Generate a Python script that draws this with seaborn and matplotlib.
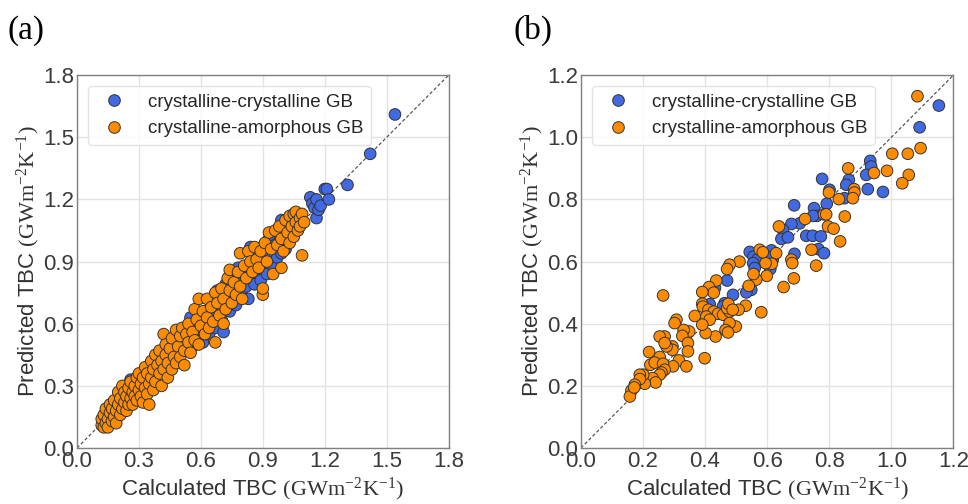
import matplotlib
matplotlib.use("Agg")
import matplotlib.pyplot as plt
import seaborn as sns
import pandas as pd
import numpy as np

# Panel (a): crystalline-crystalline GB (blue)
a_cc = [
    (0.14, 0.12), (0.17, 0.17), (0.19, 0.14), (0.21, 0.26), (0.23, 0.20), (0.26, 0.33),
    (0.27, 0.29), (0.29, 0.26), (0.31, 0.35), (0.33, 0.32), (0.35, 0.40), (0.37, 0.35),
    (0.39, 0.43), (0.41, 0.39), (0.42, 0.47), (0.44, 0.44), (0.45, 0.40), (0.47, 0.50),
    (0.48, 0.46), (0.50, 0.51), (0.51, 0.47), (0.53, 0.56), (0.54, 0.52), (0.55, 0.63),
    (0.56, 0.49), (0.57, 0.59), (0.58, 0.54), (0.59, 0.63), (0.60, 0.57), (0.61, 0.51),
    (0.62, 0.66), (0.63, 0.60), (0.64, 0.55), (0.65, 0.71), (0.66, 0.64), (0.67, 0.58),
    (0.68, 0.76), (0.69, 0.68), (0.70, 0.62), (0.71, 0.56), (0.72, 0.79), (0.73, 0.71),
    (0.74, 0.66), (0.75, 0.82), (0.76, 0.75), (0.77, 0.69), (0.78, 0.87), (0.79, 0.80),
    (0.80, 0.74), (0.81, 0.84), (0.82, 0.78), (0.83, 0.72), (0.84, 0.97), (0.84, 0.89),
    (0.85, 0.82), (0.86, 0.79), (0.87, 0.93), (0.88, 0.86), (0.89, 0.81), (0.90, 0.97),
    (0.91, 0.89), (0.92, 0.84), (0.93, 1.01), (0.94, 0.93), (0.95, 0.88), (0.96, 0.98),
    (0.97, 0.92), (0.98, 1.03), (0.99, 1.10), (0.99, 0.94), (1.00, 1.05), (1.01, 0.96),
    (1.02, 0.99), (1.04, 1.06), (1.13, 1.21), (1.14, 1.18), (1.15, 1.16), (1.16, 1.20),
    (1.16, 1.11), (1.17, 1.15), (1.18, 1.17), (1.20, 1.25), (1.21, 1.25), (1.22, 1.20),
    (1.31, 1.27), (1.42, 1.42), (1.54, 1.61),
]
# Panel (a): crystalline-amorphous GB (orange)
a_ca = [
    (0.12, 0.11), (0.12, 0.14), (0.13, 0.10), (0.13, 0.16), (0.14, 0.12), (0.14, 0.19),
    (0.15, 0.14), (0.15, 0.10), (0.16, 0.17), (0.16, 0.21), (0.17, 0.13), (0.17, 0.19),
    (0.18, 0.15), (0.18, 0.23), (0.19, 0.18), (0.19, 0.12), (0.20, 0.21), (0.20, 0.27),
    (0.21, 0.16), (0.21, 0.24), (0.22, 0.19), (0.22, 0.30), (0.23, 0.22), (0.23, 0.27),
    (0.24, 0.18), (0.24, 0.25), (0.25, 0.29), (0.25, 0.21), (0.26, 0.24), (0.26, 0.32),
    (0.27, 0.27), (0.27, 0.21), (0.28, 0.30), (0.28, 0.25), (0.29, 0.34), (0.29, 0.23),
    (0.30, 0.28), (0.30, 0.36), (0.31, 0.25), (0.31, 0.31), (0.32, 0.34), (0.32, 0.22),
    (0.33, 0.39), (0.33, 0.29), (0.34, 0.26), (0.34, 0.36), (0.35, 0.21), (0.35, 0.31),
    (0.36, 0.42), (0.36, 0.34), (0.37, 0.28), (0.37, 0.38), (0.38, 0.45), (0.38, 0.32),
    (0.39, 0.40), (0.40, 0.36), (0.40, 0.47), (0.41, 0.30), (0.41, 0.42), (0.42, 0.55),
    (0.42, 0.38), (0.43, 0.50), (0.43, 0.45), (0.44, 0.34), (0.44, 0.41), (0.45, 0.48),
    (0.46, 0.38), (0.46, 0.53), (0.47, 0.44), (0.48, 0.57), (0.48, 0.41), (0.49, 0.49),
    (0.50, 0.54), (0.50, 0.44), (0.51, 0.58), (0.52, 0.47), (0.52, 0.40), (0.53, 0.55),
    (0.54, 0.60), (0.54, 0.51), (0.55, 0.46), (0.56, 0.56), (0.57, 0.67), (0.57, 0.52),
    (0.58, 0.62), (0.59, 0.50), (0.59, 0.72), (0.60, 0.59), (0.61, 0.66), (0.62, 0.55),
    (0.63, 0.72), (0.63, 0.63), (0.64, 0.58), (0.65, 0.68), (0.66, 0.61), (0.67, 0.51),
    (0.67, 0.75), (0.68, 0.70), (0.69, 0.64), (0.70, 0.77), (0.71, 0.60), (0.71, 0.72),
    (0.72, 0.67), (0.73, 0.82), (0.74, 0.76), (0.74, 0.86), (0.75, 0.70), (0.76, 0.80),
    (0.77, 0.74), (0.78, 0.85), (0.79, 0.94), (0.79, 0.78), (0.80, 0.72), (0.81, 0.88),
    (0.82, 0.82), (0.83, 0.95), (0.84, 0.90), (0.85, 0.85), (0.86, 0.97), (0.87, 0.91),
    (0.88, 0.87), (0.89, 0.95), (0.90, 0.74), (0.90, 0.77), (0.91, 0.99), (0.92, 0.90),
    (0.93, 1.04), (0.94, 0.96), (0.95, 0.84), (0.96, 1.05), (0.97, 0.98), (0.98, 1.07),
    (0.99, 0.87), (0.99, 1.01), (1.00, 0.95), (1.01, 1.10), (1.02, 1.04), (1.03, 0.99),
    (1.03, 1.12), (1.04, 1.07), (1.05, 1.13), (1.05, 1.02), (1.06, 1.09), (1.06, 1.14),
    (1.07, 1.05), (1.08, 1.11), (1.08, 1.07), (1.09, 1.13), (1.09, 0.93), (1.10, 1.09),
]

# Panel (b): crystalline-crystalline GB (blue)
b_cc = [
    (1.153, 1.102), (1.091, 1.032), (0.932, 0.924), (0.935, 0.906), (0.919, 0.879),
    (0.924, 0.833), (0.973, 0.824), (0.777, 0.866), (0.801, 0.831), (0.863, 0.863),
    (0.855, 0.847), (0.849, 0.804), (0.792, 0.786), (0.687, 0.781), (0.751, 0.772),
    (0.760, 0.747), (0.748, 0.747), (0.705, 0.723), (0.678, 0.721), (0.651, 0.702),
    (0.646, 0.673), (0.667, 0.678), (0.726, 0.683), (0.747, 0.683), (0.773, 0.681),
    (0.765, 0.640), (0.783, 0.627), (0.688, 0.625), (0.544, 0.631), (0.556, 0.616),
    (0.570, 0.608), (0.592, 0.627), (0.614, 0.636), (0.608, 0.611), (0.618, 0.606),
    (0.600, 0.616), (0.610, 0.576), (0.555, 0.595), (0.560, 0.579), (0.549, 0.509),
    (0.533, 0.501), (0.490, 0.493), (0.471, 0.539), (0.463, 0.466), (0.458, 0.456),
    (0.415, 0.463), (0.432, 0.515),
]
# Panel (b): crystalline-amorphous GB (orange)
b_ca = [
    (1.084, 1.132), (1.094, 0.965), (1.053, 0.947), (1.003, 0.947), (0.986, 0.892),
    (0.944, 0.885), (1.056, 0.879), (1.035, 0.852), (0.861, 0.900), (0.880, 0.833),
    (0.881, 0.822), (0.876, 0.804), (0.831, 0.801), (0.799, 0.822), (0.850, 0.745),
    (0.783, 0.752), (0.790, 0.752), (0.796, 0.713), (0.814, 0.706), (0.835, 0.665),
    (0.722, 0.737), (0.638, 0.713), (0.743, 0.638), (0.758, 0.587), (0.678, 0.606),
    (0.681, 0.595), (0.686, 0.546), (0.653, 0.518), (0.629, 0.627), (0.615, 0.593),
    (0.599, 0.554), (0.595, 0.595), (0.576, 0.638), (0.586, 0.630), (0.565, 0.542),
    (0.556, 0.560), (0.581, 0.437), (0.531, 0.458), (0.508, 0.445), (0.541, 0.522),
    (0.511, 0.600), (0.479, 0.590), (0.471, 0.576), (0.436, 0.539), (0.413, 0.518),
    (0.428, 0.500), (0.391, 0.502), (0.391, 0.464), (0.393, 0.455), (0.411, 0.445),
    (0.428, 0.439), (0.442, 0.432), (0.458, 0.429), (0.479, 0.439), (0.471, 0.450),
    (0.475, 0.464), (0.489, 0.445), (0.499, 0.391), (0.479, 0.402), (0.466, 0.380),
    (0.474, 0.372), (0.434, 0.359), (0.402, 0.370), (0.404, 0.423), (0.415, 0.413),
    (0.391, 0.397), (0.367, 0.425), (0.349, 0.375), (0.331, 0.380), (0.327, 0.361),
    (0.345, 0.338), (0.345, 0.311), (0.308, 0.413), (0.302, 0.402), (0.295, 0.327),
    (0.295, 0.316), (0.276, 0.327), (0.270, 0.359), (0.254, 0.359), (0.270, 0.338),
    (0.265, 0.491), (0.316, 0.282), (0.340, 0.263), (0.297, 0.263), (0.399, 0.289),
    (0.220, 0.309), (0.224, 0.268), (0.254, 0.293), (0.238, 0.275), (0.265, 0.271),
    (0.270, 0.252), (0.260, 0.243), (0.254, 0.236), (0.231, 0.225), (0.241, 0.211),
    (0.206, 0.207), (0.201, 0.236), (0.190, 0.236), (0.190, 0.222), (0.174, 0.204),
    (0.163, 0.185), (0.158, 0.166), (0.172, 0.195),
]

labels = ["crystalline-crystalline GB", "crystalline-amorphous GB"]
palette = {labels[0]: "#4169E1", labels[1]: "#FF8C00"}


def make_df(cc, ca):
    df_cc = pd.DataFrame(cc, columns=["calc", "pred"])
    df_cc["type"] = labels[0]
    df_ca = pd.DataFrame(ca, columns=["calc", "pred"])
    df_ca["type"] = labels[1]
    return pd.concat([df_cc, df_ca], ignore_index=True)


sns.set_theme(style="whitegrid")
plt.rcParams["font.family"] = ["Liberation Sans", "DejaVu Sans"]
plt.rcParams["mathtext.fontset"] = "custom"
plt.rcParams["mathtext.rm"] = "Liberation Serif"
plt.rcParams["mathtext.it"] = "Liberation Serif:italic"
plt.rcParams["axes.edgecolor"] = "#808080"
plt.rcParams["grid.color"] = "#e3e3e3"

fig = plt.figure(figsize=(9.68, 5.04), dpi=100)
panels = [
    ("(a)", make_df(a_cc, a_ca), 1.8, 0.3, [0.0795, 0.111, 0.384, 0.740], 0.008),
    ("(b)", make_df(b_cc, b_ca), 1.2, 0.2, [0.600, 0.111, 0.385, 0.740], 0.530),
]

unit = r"$\mathrm{(GWm^{-2}K^{-1})}$"
for tag, df, lim, step, rect, tx in panels:
    ax = fig.add_axes(rect)
    ax.plot([0, lim], [0, lim], ls=(0, (3, 2)), color="#444444", lw=0.8, zorder=1)
    sns.scatterplot(data=df, x="calc", y="pred", hue="type", hue_order=labels,
                    palette=palette, s=70, edgecolor="#333333", linewidth=0.7,
                    alpha=1, ax=ax, zorder=3)
    ax.set_xlim(0, lim)
    ax.set_ylim(0, lim)
    ticks = np.round(np.arange(0, lim + step / 2, step), 2)
    ax.set_xticks(ticks)
    ax.set_yticks(ticks)
    ax.set_xticklabels([f"{t:.1f}" for t in ticks], fontsize=16, color="#3a3a3a")
    ax.set_yticklabels([f"{t:.1f}" for t in ticks], fontsize=16, color="#3a3a3a")
    ax.tick_params(length=0, pad=2)
    ax.set_xlabel("Calculated TBC " + unit, fontsize=16, color="#333333", labelpad=3)
    ax.set_ylabel("Predicted TBC " + unit, fontsize=16, color="#333333", labelpad=1)
    for sp in ax.spines.values():
        sp.set_linewidth(1.0)
    leg = ax.legend(loc="upper left", fontsize=13.5, title=None, frameon=True,
                    borderaxespad=0.6)
    leg.get_frame().set_edgecolor("#dddddd")
    fig.text(tx, 0.94, tag, fontsize=24, family="Liberation Serif", color="black",
             va="center")

fig.savefig("out.png", dpi=100)
